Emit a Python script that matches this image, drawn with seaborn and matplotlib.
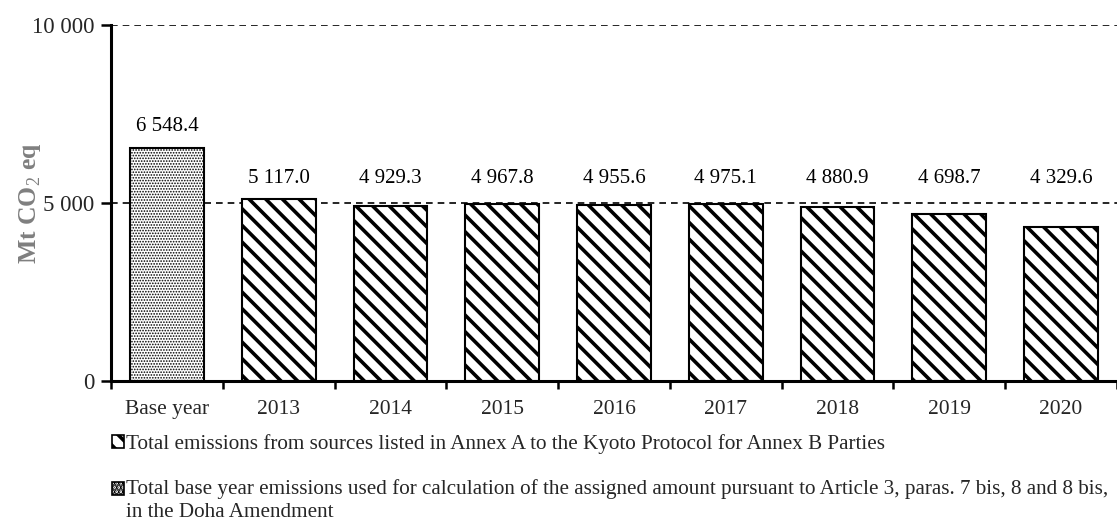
import matplotlib
matplotlib.use("Agg")
import matplotlib.pyplot as plt
import seaborn as sns
import pandas as pd
from matplotlib.patches import Patch
from matplotlib.ticker import FuncFormatter, FixedLocator

categories = ["Base year", "2013", "2014", "2015", "2016", "2017", "2018", "2019", "2020"]
values = [6548.4, 5117.0, 4929.3, 4967.8, 4955.6, 4975.1, 4880.9, 4698.7, 4329.6]
legend_labels = [
    "Total emissions from sources listed in Annex A to the Kyoto Protocol for Annex B Parties",
    "Total base year emissions used for calculation of the assigned amount pursuant to Article 3, paras. 7 bis, 8 and 8 bis,\nin the Doha Amendment",
]
ylabel = "Mt CO$_2$ eq"

sns.set_theme(style="white")
plt.rcParams["font.family"] = ["Liberation Serif", "DejaVu Serif"]
plt.rcParams["hatch.linewidth"] = 2.6
plt.rcParams["mathtext.fontset"] = "custom"
plt.rcParams["mathtext.rm"] = "Liberation Serif"
plt.rcParams["mathtext.bf"] = "Liberation Serif:bold"

df = pd.DataFrame({"cat": categories, "val": values})

fig = plt.figure(figsize=(11.17, 5.21), dpi=100)
ax = fig.add_axes([0.0994, 0.2687, 0.9006, 0.6833])

sns.barplot(data=df, x="cat", y="val", ax=ax, color="white", width=0.66,
            edgecolor="black", linewidth=1.5, saturation=1)


def set_hlw(p, lw):
    if hasattr(p, "set_hatch_linewidth"):
        p.set_hatch_linewidth(lw)
    else:
        p._hatch_linewidth = lw


for i, p in enumerate(ax.patches):
    p.set_facecolor("white")
    p.set_edgecolor("black")
    if i == 0:
        p.set_hatch("......")
        set_hlw(p, 0.8)
    else:
        p.set_hatch("\\\\")

# labels: base year above its bar; years aligned on a common level
level = max(values[1:])
for i, v in enumerate(values):
    s = f"{v:,.1f}".replace(",", " ")
    y = v if i == 0 else level
    off = 8.5 if i == 0 else 8
    ax.annotate(s, (i, y), xytext=(0, off), textcoords="offset points",
                ha="center", va="bottom", fontsize=15, color="black")

ax.set_ylim(0, 10000)
ax.set_xlim(-0.5, len(categories) - 0.5)
ax.yaxis.set_major_locator(FixedLocator([0, 5000, 10000]))
ax.yaxis.set_major_formatter(FuncFormatter(lambda y, _: f"{int(y):,}".replace(",", " ")))
for y in (5000, 10000):
    ax.axhline(y, color="black", linestyle=(0, (4, 3)), linewidth=1.2, zorder=0)

ax.set_xticks(range(len(categories)))
ax.set_xticklabels(categories)
ax.set_xticks([i - 0.5 for i in range(len(categories) + 1)], minor=True)
ax.tick_params(axis="x", which="major", length=0, pad=14, labelsize=15.5)
ax.tick_params(axis="x", which="minor", length=6, width=1.8, direction="out", color="black", bottom=True)
ax.tick_params(axis="y", which="major", length=7, width=1.8, direction="out", color="black", left=True, labelsize=16.5, pad=5)

for side in ("top", "right"):
    ax.spines[side].set_visible(False)
for side in ("left", "bottom"):
    ax.spines[side].set_color("black")
    ax.spines[side].set_linewidth(2.2)

ax.set_xlabel("")
ax.set_ylabel(ylabel, fontsize=18.5, fontweight="bold", color="#7f7f7f")
ax.yaxis.set_label_coords(-0.068, 0.5)

handles = [
    Patch(facecolor="white", edgecolor="black", hatch="\\\\", linewidth=1.2),
    Patch(facecolor="white", edgecolor="black", hatch="....", linewidth=1.2),
]
leg_fs = 15.2
leg_ls = 1.25
leg = fig.legend(handles, legend_labels, loc="upper left", bbox_to_anchor=(0.1003, 0.167),
                 frameon=False, fontsize=leg_fs, handlelength=0.55, handleheight=0.55,
                 handletextpad=0.12, labelspacing=1.2, borderaxespad=0, borderpad=0)
for t in leg.get_texts():
    t.set_linespacing(leg_ls)
# put the second marker on the first line of its two-line label
h2 = leg.legend_handles[1]
h2.set_y(h2.get_y() + 8.5)

fig.savefig("out.png", dpi=100)
